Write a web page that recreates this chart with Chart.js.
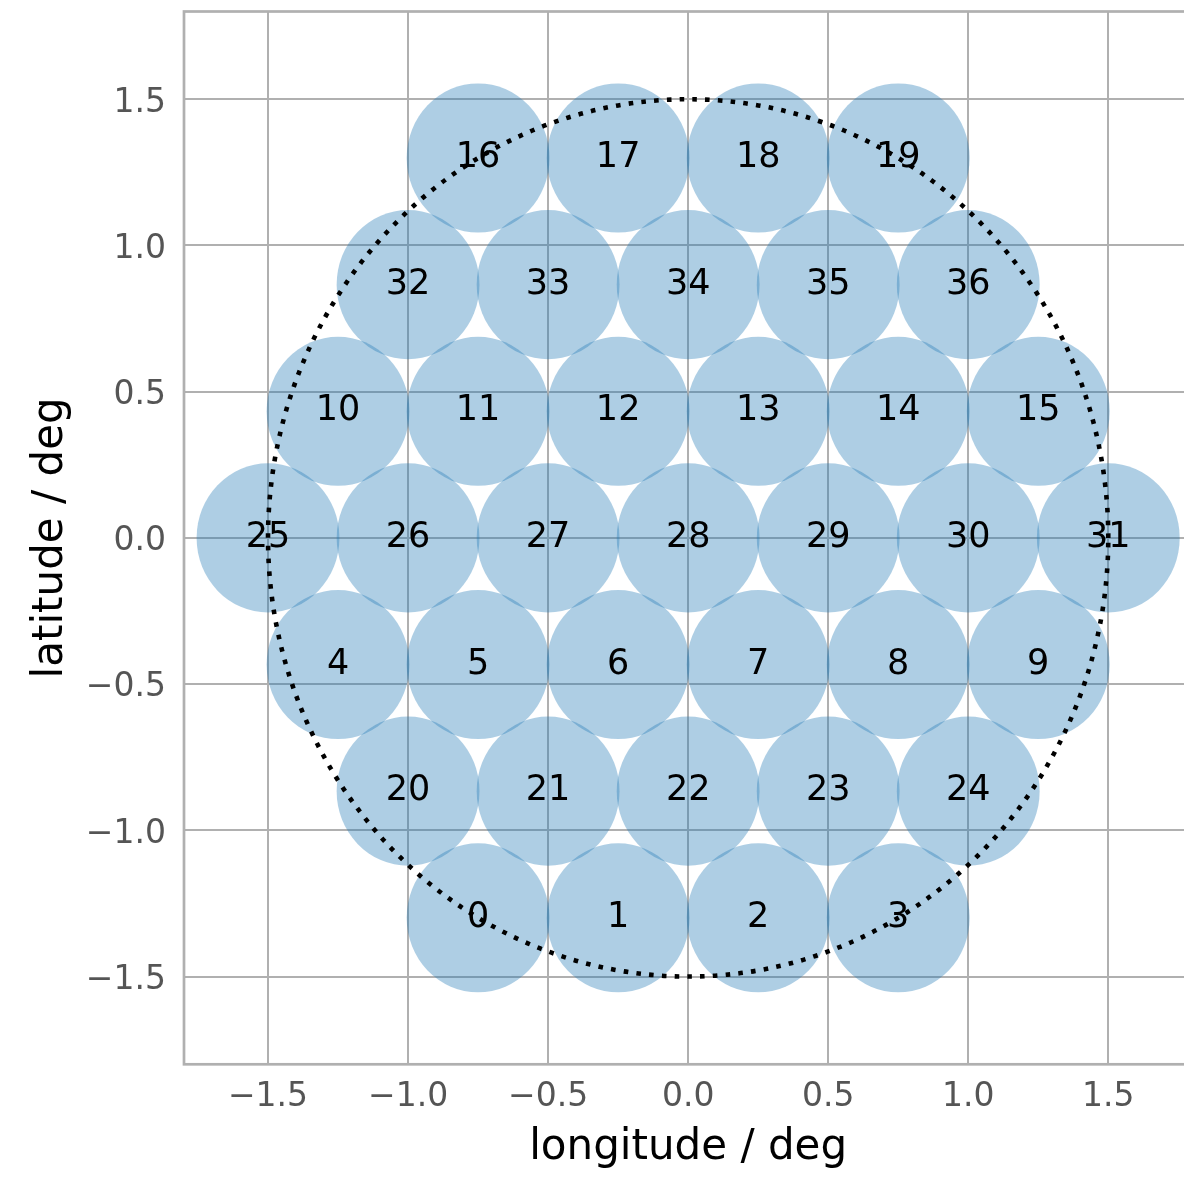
<!DOCTYPE html>
<html>
<head>
<meta charset="utf-8">
<title>Beam layout</title>
<script src="https://cdn.jsdelivr.net/npm/chart.js@4.4.1/dist/chart.umd.min.js"></script>
<style>
  html, body { margin: 0; padding: 0; background: #fff; overflow: hidden; }
  #wrap { position: relative; width: 1200px; height: 1177px; }
</style>
</head>
<body>
<div id="wrap"><canvas id="grafico"></canvas></div>
<script>
// beam numbers and pointing offsets (deg)
const beamIds = [
  0, 1, 2, 3, 4, 5, 6, 7, 8, 9, 10, 11, 12, 13, 14, 15, 16, 17, 18,
  19, 20, 21, 22, 23, 24, 25, 26, 27, 28, 29, 30, 31, 32, 33, 34, 35, 36
];
const lonDeg = [
  -0.75, -0.25, 0.25, 0.75,
  -1.25, -0.75, -0.25, 0.25, 0.75, 1.25,
  -1.25, -0.75, -0.25, 0.25, 0.75, 1.25,
  -0.75, -0.25, 0.25, 0.75,
  -1.0, -0.5, 0.0, 0.5, 1.0,
  -1.5, -1.0, -0.5, 0.0, 0.5, 1.0, 1.5,
  -1.0, -0.5, 0.0, 0.5, 1.0
];
const latDeg = [
  -1.299, -1.299, -1.299, -1.299,
  -0.433, -0.433, -0.433, -0.433, -0.433, -0.433,
  0.433, 0.433, 0.433, 0.433, 0.433, 0.433,
  1.299, 1.299, 1.299, 1.299,
  -0.866, -0.866, -0.866, -0.866, -0.866,
  0.0, 0.0, 0.0, 0.0, 0.0, 0.0, 0.0,
  0.866, 0.866, 0.866, 0.866, 0.866
];
const xTicks = [-1.5, -1.0, -0.5, 0.0, 0.5, 1.0, 1.5];
const yTicks = [-1.5, -1.0, -0.5, 0.0, 0.5, 1.0, 1.5];
const beamRadius = 0.255; // deg
const fieldRadius = 1.5;  // deg, dotted ring
const axisLim = 1.8;

const FONT = '"DejaVu Sans", sans-serif';
const GRID = '#b0b0b0';

function fmtTick(v) {
  return Number(v).toFixed(1).replace('-', '\u2212');
}

// beams as filled circles in data units, numbers on top, then the dotted field ring
const beamsPlugin = {
  id: 'beams',
  afterDatasetsDraw(chart) {
    const ctx = chart.ctx;
    const xs = chart.scales.x, ys = chart.scales.y;
    const a = chart.chartArea;
    const rx = Math.abs(xs.getPixelForValue(beamRadius) - xs.getPixelForValue(0));
    const ry = Math.abs(ys.getPixelForValue(beamRadius) - ys.getPixelForValue(0));
    const pts = chart.getDatasetMeta(0).data;

    ctx.save();
    // frame
    ctx.strokeStyle = GRID;
    ctx.lineWidth = 2.7;
    ctx.strokeRect(a.left, a.top, a.right - a.left, a.bottom - a.top);

    ctx.fillStyle = 'rgba(31,119,180,0.36)';
    pts.forEach(p => {
      ctx.beginPath();
      ctx.ellipse(p.x, p.y, rx, ry, 0, 0, Math.PI * 2);
      ctx.fill();
    });

    ctx.fillStyle = '#000';
    ctx.font = '35px ' + FONT;
    ctx.textAlign = 'center';
    ctx.textBaseline = 'middle';
    pts.forEach((p, i) => ctx.fillText(String(beamIds[i]), p.x, p.y));

    const cx = xs.getPixelForValue(0), cy = ys.getPixelForValue(0);
    const Rx = Math.abs(xs.getPixelForValue(fieldRadius) - cx);
    const Ry = Math.abs(ys.getPixelForValue(fieldRadius) - cy);
    ctx.strokeStyle = '#000';
    ctx.lineWidth = 4.6;
    ctx.lineCap = 'butt';
    ctx.setLineDash([4.6, 8.2]);
    ctx.beginPath();
    ctx.ellipse(cx, cy, Rx, Ry, 0, 0, -Math.PI * 2, true);
    ctx.stroke();
    ctx.restore();
  }
};

const ctx = document.getElementById('grafico').getContext('2d');

new Chart(ctx, {
  type: 'scatter',
  data: {
    datasets: [{
      data: lonDeg.map((x, i) => ({ x: x, y: latDeg[i] })),
      pointRadius: 0,
      pointHoverRadius: 0
    }]
  },
  options: {
    responsive: true,
    maintainAspectRatio: false,
    animation: false,
    events: [],
    layout: { padding: { left: 0, right: 7.7, top: 11.5, bottom: 0 } },
    plugins: { legend: { display: false }, tooltip: { enabled: false } },
    scales: {
      x: {
        type: 'linear',
        min: -axisLim,
        max: axisLim,
        afterBuildTicks: s => { s.ticks = xTicks.map(v => ({ value: v })); },
        afterFit: s => { s.height = 112.7; s.paddingLeft = 0; s.paddingRight = 0; },
        grid: { color: GRID, lineWidth: 2, drawTicks: false },
        border: { display: false },
        ticks: {
          padding: 13,
          color: '#555',
          font: { family: FONT, size: 33 },
          callback: v => fmtTick(v)
        },
        title: {
          display: true,
          text: 'longitude / deg',
          color: '#000',
          font: { family: FONT, size: 42 },
          padding: { top: 0, bottom: 4 }
        }
      },
      y: {
        type: 'linear',
        min: -axisLim,
        max: axisLim,
        afterBuildTicks: s => { s.ticks = yTicks.map(v => ({ value: v })); },
        afterFit: s => { s.width = 184; s.paddingTop = 0; s.paddingBottom = 0; },
        grid: { color: GRID, lineWidth: 2, drawTicks: false },
        border: { display: false },
        ticks: {
          padding: 18,
          labelOffset: 3.7,
          color: '#555',
          font: { family: FONT, size: 33 },
          callback: v => fmtTick(v)
        },
        title: {
          display: true,
          text: 'latitude / deg',
          color: '#000',
          font: { family: FONT, size: 42 },
          padding: { top: 26, bottom: 0 }
        }
      }
    }
  },
  plugins: [beamsPlugin]
});
</script>
</body>
</html>
